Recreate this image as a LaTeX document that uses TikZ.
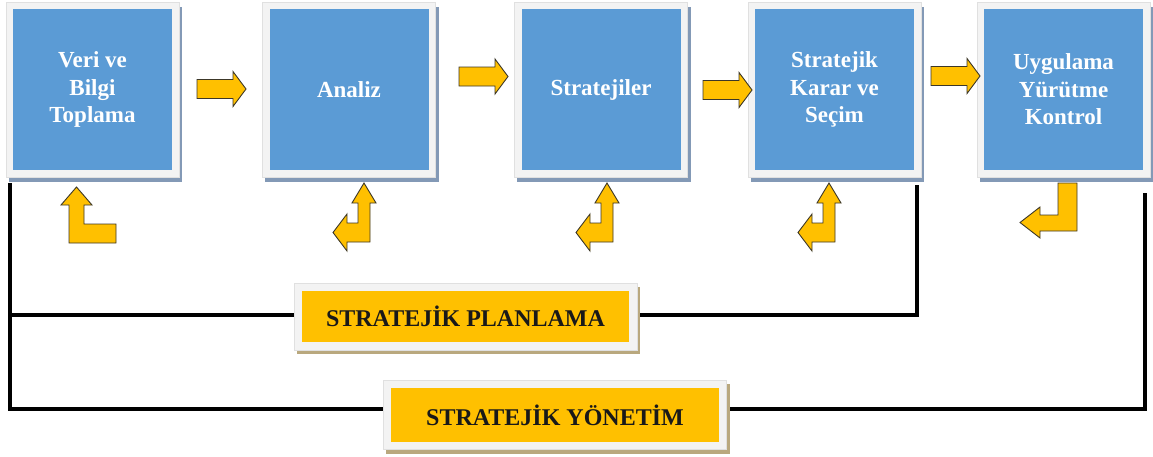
\documentclass[tikz,border=0pt]{standalone}
\usepackage{fontspec}
\setmainfont{Liberation Serif}
\usetikzlibrary{backgrounds}

\definecolor{stepblue}{HTML}{5B9BD5}
\definecolor{framegray}{HTML}{F3F3F3}
\definecolor{frameedge}{HTML}{E0E0E0}
\definecolor{blueshade}{HTML}{8399B6}
\definecolor{gold}{HTML}{FFC000}
\definecolor{goldedge}{HTML}{3C3728}
\definecolor{tanshade}{HTML}{B9A87E}

\begin{document}
\begin{tikzpicture}[x=1pt, y=-1pt,
  stepbox/.style={fill=stepblue, minimum width=159pt, minimum height=161pt,
    inner sep=0pt, align=center, text=white,
    font=\fontsize{23}{27.5}\selectfont\bfseries},
  titlebox/.style={fill=gold, inner sep=0pt, text=black!90,
    font=\fontsize{24}{28}\selectfont\bfseries},
  blockarrow/.style={fill=gold, draw=goldedge, line width=0.9pt, line join=miter},
  link/.style={line width=4pt, black, line join=miter},
  rarrow/.pic={\filldraw[blockarrow] (0,-9.5) -- (36,-9.5) -- (36,-17.5) -- (49,0)
      -- (36,17.5) -- (36,9.5) -- (0,9.5) -- cycle;},
  leftup/.pic={\filldraw[blockarrow] (0,0) -- (0,-39) -- (6,-39) -- (-6,-59)
      -- (-18,-39) -- (-12,-39) -- (-12,-19) -- (-23,-19) -- (-23,-28)
      -- (-37,-9.5) -- (-23,9) -- (-23,0) -- cycle;},
  bentup/.pic={\filldraw[blockarrow] (0,0) -- (0,-38) -- (-8,-38) -- (7.5,-56)
      -- (23,-38) -- (15,-38) -- (15,-19) -- (47,-19) -- (47,0) -- cycle;},
  downleft/.pic={\filldraw[blockarrow] (0,0) -- (19,0) -- (19,48) -- (-18,48)
      -- (-18,55) -- (-38,39.5) -- (-18,24) -- (-18,32) -- (0,32) -- cycle;},
]

\useasboundingbox (0,0) rectangle (1153,456);

% process steps
\node[stepbox] (veri)    at (92.5,89.5)  {Veri ve\\Bilgi\\Toplama};
\node[stepbox] (analiz)  at (349,89.5)   {Analiz};
\node[stepbox] (strat)   at (601,89.5)   {Stratejiler};
\node[stepbox] (karar)   at (834.5,89.5) {Stratejik\\Karar ve\\Seçim};
\node[stepbox] (uygula)  at (1063.5,89.5){Uygulama\\Yürütme\\Kontrol};

% summary labels
\node[titlebox, minimum width=327pt, minimum height=51pt] (planlama) at (465.5,316.5)
  {STRATEJİK PLANLAMA};
\node[titlebox, minimum width=328pt, minimum height=54pt] (yonetim) at (555,415)
  {STRATEJİK YÖNETİM};

% rail anchors
\coordinate (railL)  at (10,183);
\coordinate (railR1) at (917,185);
\coordinate (railR2) at (1145,193);
\coordinate (yMid)   at (0,315);
\coordinate (yBot)   at (0,409);

\begin{scope}[on background layer]
  % bracket lines
  \draw[link] (railL) |- (yonetim.west |- yBot);
  \draw[link] (railL |- yMid) -- (planlama.west |- yMid);
  \draw[link] (railR1) |- (planlama.east |- yMid);
  \draw[link] (railR2) |- (yonetim.east |- yBot);
  % frames and shadows
  \foreach \n/\s/\m/\dx/\dy in {veri/blueshade/7/3/5, analiz/blueshade/7/3/5,
      strat/blueshade/7/3/5, karar/blueshade/7/3/5, uygula/blueshade/7/3/5,
      planlama/tanshade/8/3/4, yonetim/tanshade/7.5/3/4} {
    \fill[\s] ([shift={({-\m+\dx},{-\m+\dy})}]\n.north west)
      rectangle ([shift={({\m+\dx},{\m+\dy})}]\n.south east);
    \filldraw[fill=framegray, draw=frameedge, line width=0.6pt]
      ([shift={(-\m,-\m)}]\n.north west) rectangle ([shift={(\m,\m)}]\n.south east);
  }
\end{scope}

% forward arrows between steps
\pic (a1) at (197,89) {rarrow};
\pic (a2) at (459,76.5) {rarrow};
\pic (a3) at (703,90) {rarrow};
\pic (a4) at (931,76) {rarrow};

% feedback arrows below steps
\pic (f1) at (69,243) {bentup};
\pic (f2) at (370,242) {leftup};
\pic (f3) at (613,242) {leftup};
\pic (f4) at (835,242) {leftup};
\pic (f5) at (1058,183) {downleft};

\end{tikzpicture}
\end{document}
